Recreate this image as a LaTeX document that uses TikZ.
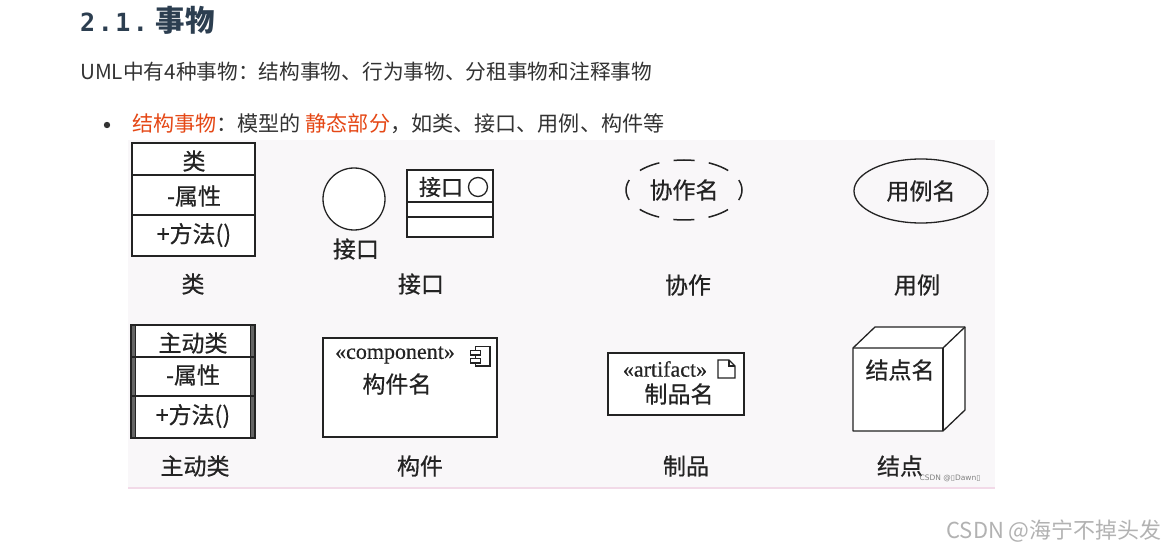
\documentclass[tikz,border=0pt]{standalone}
\usepackage{fontspec}
\usetikzlibrary{shapes.geometric}
\newfontfamily\cjk{Noto Sans CJK SC}
\newfontfamily\cjkfig[FakeBold=0.6]{Noto Sans CJK SC}
\newfontfamily\mono[LetterSpace=10]{DejaVu Sans Mono}
\newfontfamily\tms[FakeBold=0.4]{Liberation Serif}
\newfontfamily\dejavu{DejaVu Sans}
\definecolor{titlec}{RGB}{44,62,80}
\definecolor{txt}{RGB}{51,51,51}
\definecolor{hl}{RGB}{229,72,22}
\definecolor{ink}{RGB}{35,35,35}
\definecolor{panel}{RGB}{249,247,249}
\definecolor{pinkline}{RGB}{242,218,232}
\definecolor{wm}{RGB}{178,178,178}
\begin{document}
\begin{tikzpicture}[x=1pt,y=-1pt,
  shp/.style={draw=ink,line width=1.3pt},
  fig/.style={font=\cjkfig\fontsize{23}{23}\selectfont,text=ink,inner sep=0pt},
  ster/.style={font=\tms\fontsize{22}{22}\selectfont,text=ink,inner sep=0pt},
  body/.style={font=\cjk\fontsize{20.7}{21}\selectfont,text=txt,inner sep=0pt,anchor=west}]
\useasboundingbox (0,0) rectangle (1168,556);
\fill[white] (0,0) rectangle (1168,556);
% header texts
\node[inner sep=0pt,anchor=west,text=titlec] (title) at (80,20)
  {{\mono\bfseries\fontsize{25}{25}\selectfont 2.1.}\hspace{8pt}{\cjk\bfseries\fontsize{29.5}{30}\selectfont 事物}};
\node[body] (intro) at (80,72) {UML中有4种事物：结构事物、行为事物、分租事物和注释事物};
\fill[txt] (107,125) circle (3.2);
\node[body,font=\cjk\fontsize{21.1}{21}\selectfont] (bullet) at (132,124) {{\color{hl}结构事物}：模型的 {\color{hl}静态部分}，如类、接口、用例、构件等};
% panel
\fill[panel] (128,140) rectangle (995,489);
\draw[pinkline,line width=2pt] (128,488) -- (995,488);
% class
\draw[shp,fill=white] (132,143) rectangle (255,256);
\draw[shp] (132,175) -- (255,175);
\draw[shp] (132,215) -- (255,215);
\node[fig] (clsname) at (194,161) {类};
\node[fig] (clsattr) at (194,196) {-属性};
\node[fig] (clsop) at (194,235) {+方法()};
\node[fig] (clslab) at (193,284) {类};
% interface
\draw[shp,fill=white] (354,199) circle (31);
\node[fig] (ifc1) at (356,249) {接口};
\draw[shp,fill=white] (407,170) rectangle (493,237);
\draw[shp] (407,202) -- (493,202);
\draw[shp] (407,217) -- (493,217);
\node[fig,font=\cjkfig\fontsize{22}{22}\selectfont] (ifc2) at (441,187) {接口};
\draw[shp] (478,187) circle (9.5);
\node[fig] (ifclab) at (421,284) {接口};
% collaboration
\node[draw=ink,line width=1.5pt,ellipse,dash pattern=on 21pt off 14.4pt,dash phase=10.5pt,
  minimum width=116,minimum height=60,inner sep=0pt,fig] (collab) at (684,190) {协作名};
\node[fig] (collablab) at (688,285) {协作};
% use case
\node[shp,ellipse,minimum width=134,minimum height=64,inner sep=0pt,fig] (uc) at (921,191) {用例名};
\node[fig] (uclab) at (917,285) {用例};
% active class
\draw[shp,fill=white] (131,325) rectangle (255,438);
\fill[ink!70] (131,325) rectangle (135.5,438);
\fill[ink!70] (250.5,325) rectangle (255,438);
\draw[shp] (131,325) rectangle (255,438);
\draw[ink,line width=1pt] (135.5,325) -- (135.5,438);
\draw[ink,line width=1pt] (250.5,325) -- (250.5,438);
\draw[shp] (131,357) -- (255,357);
\draw[shp] (131,396) -- (255,396);
\node[fig] (acname) at (193,343) {主动类};
\node[fig] (acattr) at (193,375) {-属性};
\node[fig] (acop) at (193,416) {+方法()};
\node[fig] (aclab) at (195,466) {主动类};
% component
\draw[shp,fill=white] (323,338) rectangle (497,437);
\node[ster] (compst) at (395,355) {«component»};
\draw[ink,line width=1.3pt,fill=white] (475.5,346.5) rectangle (490,366);
\draw[ink,line width=1.3pt,fill=white] (470.5,350.5) rectangle (480.5,355);
\draw[ink,line width=1.3pt,fill=white] (470.5,358.5) rectangle (480.5,363);
\node[fig] (compname) at (397,384) {构件名};
\node[fig] (complab) at (420,466) {构件};
% artifact
\draw[shp,fill=white] (608,353) rectangle (744,415);
\node[ster] (artst) at (665,369) {«artifact»};
\draw[ink,line width=1.2pt,fill=white] (718,360) -- (729,360) -- (735,366) -- (735,378) -- (718,378) -- cycle;
\draw[ink,line width=1.1pt] (729,360) -- (729,366) -- (735,366);
\node[fig] (artname) at (679,394) {制品名};
\node[fig] (artlab) at (686,466) {制品};
% node
\draw[shp,fill=white,line join=round] (853,348) -- (875,327) -- (965,327) -- (965,410) -- (943,431) -- (853,431) -- cycle;
\draw[shp,line join=round] (853,348) -- (943,348) -- (965,327);
\draw[shp] (943,348) -- (943,431);
\node[fig] (nodename) at (900,370) {结点名};
\node[fig] (nodelab) at (900,466) {结点};
\node[inner sep=0pt,font=\dejavu\fontsize{7.5}{8}\selectfont,text=gray] (wm1) at (950,478) {CSDN @▯Dawn▯};
% watermark
\node[inner sep=0pt,anchor=east,font=\cjk\fontsize{22}{22}\selectfont,text=wm] (wm2) at (1162,531) {CSDN @海宁不掉头发};
\end{tikzpicture}
\end{document}
